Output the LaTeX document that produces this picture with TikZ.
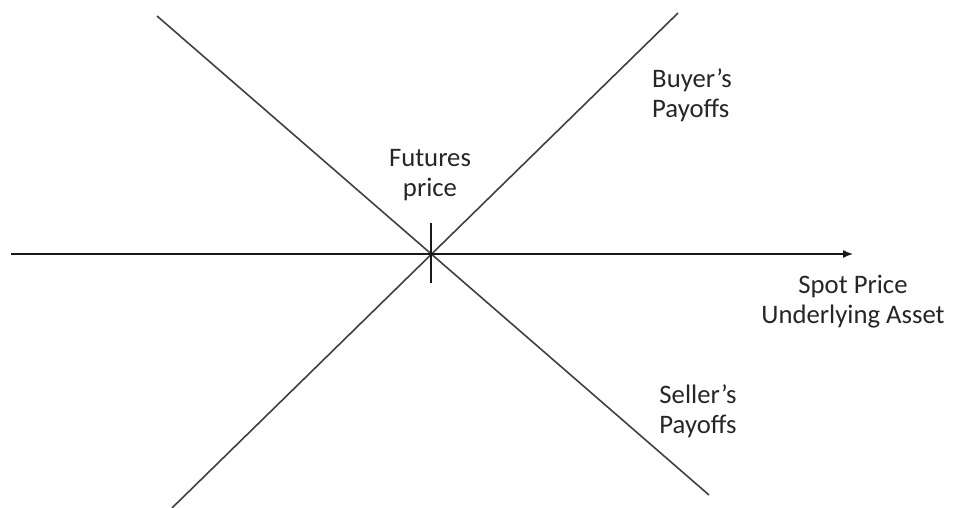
\documentclass[tikz,border=0pt]{standalone}
\usepackage{fontspec}
\setmainfont{Carlito}
\usetikzlibrary{arrows.meta}
\begin{document}
\begin{tikzpicture}[x=1pt,y=-1pt,
  payline/.style={draw=black!75,line width=1.6pt},
  axisline/.style={draw=black!90,line width=1.4pt,-{Latex[length=10pt,width=8pt]}},
  lbl/.style={inner sep=0pt,align=center,text=black!85,font=\fontsize{26.7}{30}\selectfont}]
\useasboundingbox (0,0) rectangle (953,508);
% end points
\coordinate (b1) at (157,16);
\coordinate (b2) at (709,495);
\coordinate (s1) at (678,13);
\coordinate (s2) at (172,508);
\coordinate (ax0) at (11,254);
\coordinate (ax1) at (853,254);
\coordinate (t0) at (431,223);
\coordinate (t1) at (431,283);
% lines
\draw[payline] (b1) -- (b2);
\draw[payline] (s1) -- (s2);
\draw[axisline] (ax0) -- (ax1);
\draw[payline,draw=black!90] (t0) -- (t1);
% labels
\node[lbl] (fp) at (430,176) {\strut Futures\\price\strut};
\node[lbl,align=left] (bp) at (692,97) {\strut Buyer’s\\Payoffs\strut};
\node[lbl] (sp) at (698,412) {\strut Seller’s\\Payoffs\strut};
\node[lbl] (spot) at (853,302) {\strut Spot Price\\Underlying Asset\strut};
\end{tikzpicture}
\end{document}
